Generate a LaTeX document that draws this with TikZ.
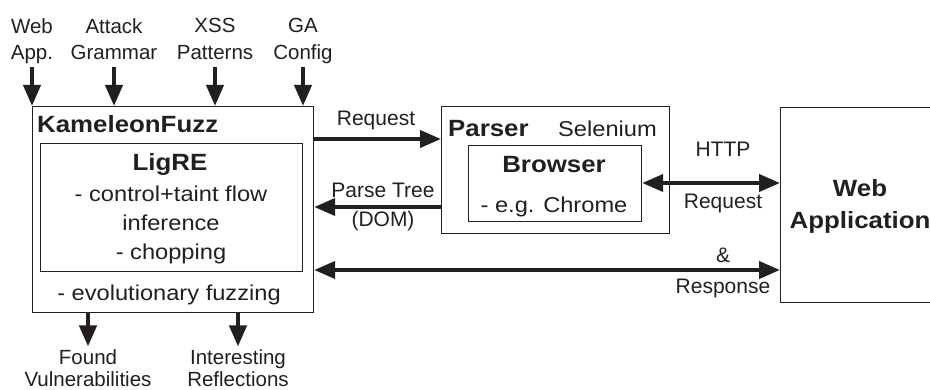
\documentclass[tikz,border=0pt]{standalone}
\usepackage{fontspec}
\setmainfont{Liberation Sans}
\newfontfamily\boxfont{Liberation Sans}[FakeStretch=1.1]
\usetikzlibrary{arrows.meta}
\definecolor{ink}{HTML}{231F20}
\begin{document}
\begin{tikzpicture}[x=1pt,y=-1pt,
  box/.style={draw=ink, line width=1.2pt, inner sep=0pt, anchor=north west},
  lbl/.style={text=ink, inner sep=0pt, font=\fontsize{20.5}{26.5}\selectfont, align=center, anchor=north},
  blbl/.style={text=ink, inner sep=0pt, font=\fontsize{20.5}{22}\selectfont, align=center, anchor=north},
  albl/.style={text=ink, inner sep=0pt, font=\fontsize{21}{25}\selectfont, anchor=base},
  btxt/.style={text=ink, inner sep=0pt, font=\boxfont\fontsize{21.5}{29}\selectfont, align=center},
  ttl/.style={text=ink, inner sep=0pt, font=\boxfont\bfseries\fontsize{23.5}{32}\selectfont, align=center},
  arr/.style={draw=ink, line width=4pt, -{Triangle[length=21pt,width=17pt]}},
  darr/.style={draw=ink, line width=4pt, {Triangle[length=21pt,width=17pt]}-{Triangle[length=21pt,width=17pt]}}]
\useasboundingbox (0,0) rectangle (930,390);
\clip (0,0) rectangle (930,390);

% boxes
\node[box, minimum width=281pt, minimum height=206pt] (kf) at (32,106) {};
\node[box, minimum width=262pt, minimum height=128pt] (ligre) at (40,143) {};
\node[box, minimum width=228pt, minimum height=127pt] (parser) at (441,106) {};
\node[box, minimum width=173pt, minimum height=76pt] (browser) at (468,145) {};
\node[box, minimum width=180pt, minimum height=195pt] (webapp) at (780,107) {};

% box texts
\node[ttl, anchor=base west] (kft) at (37,133) {KameleonFuzz};
\node[ttl, anchor=base] (ligt) at (170,171) {LigRE};
\node[btxt, anchor=north] (ligb) at (171,186) {- control+taint flow\\inference\\- chopping};
\node[btxt, anchor=base] (evo) at (169,300.7) {- evolutionary fuzzing};
\node[ttl, anchor=base west] (part) at (448,137) {Parser};
\node[btxt, anchor=base west] (sel) at (558,137) {Selenium};
\node[ttl, anchor=base] (brt) at (554,173) {Browser};
\node[btxt, anchor=base] (chr) at (554,213) {- e.g. Chrome};
\node[ttl, anchor=north] (wat) at (860,179) {Web\\Application};

% inputs
\node[lbl] (in1) at (32,18) {Web\\App.};
\node[lbl] (in2) at (114,18) {Attack\\Grammar};
\node[lbl] (in3) at (215,18) {XSS\\Patterns};
\node[lbl] (in4) at (303,18) {GA\\Config};
\coordinate (intop) at (0,67);
\foreach \n in {in1,in2,in3,in4}
  \draw[arr] (\n.south |- intop) -- (\n.south |- kf.north);

% outputs
\node[blbl] (out1) at (88,349) {Found\\Vulnerabilities};
\node[blbl] (out2) at (238,349) {Interesting\\Reflections};
\foreach \n in {out1,out2}
  \draw[arr] (\n.north |- kf.south) -- ([yshift=2.5pt]\n.north);

% connectors
\coordinate (yreq) at (0,139);
\coordinate (ydom) at (0,207);
\coordinate (yhttp) at (0,183);
\coordinate (yresp) at (0,270);
\draw[arr] (kf.east |- yreq) -- (parser.west |- yreq);
\draw[arr] (parser.west |- ydom) -- (kf.east |- ydom);
\draw[darr] (browser.east |- yhttp) -- (webapp.west |- yhttp);
\draw[darr] (kf.east |- yresp) -- (webapp.west |- yresp);

% connector labels
\node[albl] (lreq) at (376,126) {Request};
\node[albl] (lpt) at (383,198) {Parse Tree};
\node[albl] (ldom) at (383,227) {(DOM)};
\node[albl] (lhttp) at (723,157) {HTTP};
\node[albl] (lreq2) at (723,209) {Request};
\node[albl] (lamp) at (723,262.5) {\&};
\node[albl] (lresp) at (723,294) {Response};
\end{tikzpicture}
\end{document}
